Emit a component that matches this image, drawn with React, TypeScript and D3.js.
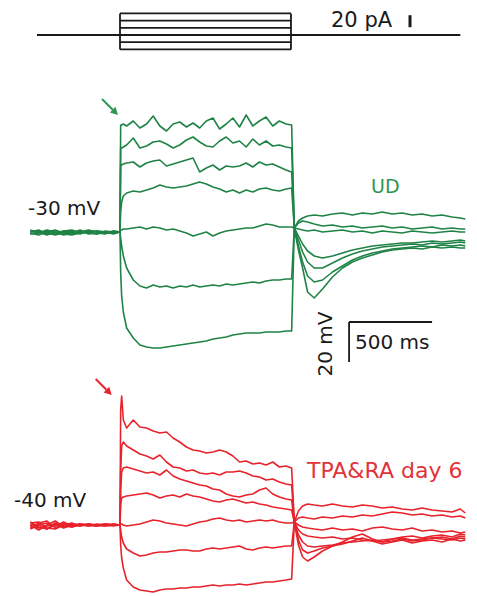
import React from 'react';
import * as d3 from 'd3';

const W = 477;
const H = 596;

// Sampling times (ms) relative to the onset of the current step
const BASE_T = [-540, -490, -440, -390, -340, -290, -240, -190, -140, -90, -40, 0];
const STEP_T = [4, 10, 20, 40, 80, 120, 160, 200, 240, 280, 320, 360, 400, 440, 480, 520, 560, 600, 640, 680, 720, 760, 800, 840, 880, 920, 960, 1000, 1034];
const POST_T = [1050, 1075, 1100, 1130, 1170, 1220, 1280, 1340, 1400, 1460, 1520, 1580, 1640, 1700, 1760, 1820, 1880, 1940, 2000, 2050, 2080];

// Injected current protocol (pA)
const STEP_ON = 0;
const STEP_OFF = 1030;
const STIM_START = -500;
const STIM_END = 2050;
const STIM_PA = [36, 24, 12, 0, -12, -24];

// UD cell, membrane potential (mV), one row per sweep
const UD_BASE = [
  [-30, -29, -31, -30.5, -29.5, -30, -31, -29.5, -30, -30.5, -29.5, -30],
  [-31, -30.5, -29, -30, -31.5, -30.5, -29.5, -30.5, -31, -30, -30.5, -30],
  [-29, -30.5, -30, -29, -30.5, -31, -30, -30.5, -29.5, -30, -31, -30],
  [-30.5, -31.5, -30, -31, -29.5, -29, -30.5, -30, -31, -29.5, -30, -30],
  [-29.5, -30, -31.5, -30, -30, -30.5, -29, -31, -30.5, -31, -29.5, -30],
  [-30, -29.5, -30.5, -31.5, -30.5, -29.5, -30, -29, -30, -30.5, -30, -30],
  [-31, -30, -29.5, -30, -31, -31.5, -30.5, -30, -29.5, -30, -30.5, -30],
];
const UD_STEP = [
  [23.5, 23.5, 24, 23, 25.5, 22, 24, 28, 23, 20.5, 24, 25, 22.5, 24.5, 22, 25.5, 27, 21.5, 24, 27, 22.5, 28.5, 23, 25.5, 27.5, 23, 25.5, 24, 23.5],
  [12, 12, 12.5, 13.5, 17, 12, 13, 15, 15.5, 14, 12, 13.5, 16, 17.5, 15, 13, 12.5, 15.5, 17.5, 14.5, 15.5, 12.5, 16.5, 13.5, 15.5, 13, 13.5, 12.5, 12],
  [3, 3.5, 4, 4.5, 5, 2.5, 4.5, 5.5, 6, 3, 4, 5, 6, 7, 0, 2, 3.5, 1, 3, 2.5, 3, 4.5, 2.5, 5, 3.5, 4, 2.5, 1, 0],
  [-20, -15, -12, -10.5, -9.5, -10, -9, -8, -6.5, -7.5, -8, -7.5, -7, -6, -5, -6, -7.5, -8.5, -10, -9, -10.5, -9, -10, -8.5, -8, -9, -9.5, -8.5, -8],
  [-29, -29, -28.5, -28.5, -28, -27.5, -28.5, -27.5, -28, -29, -28.5, -29.5, -30.5, -32, -31, -30, -32, -30.5, -29.5, -29, -28.5, -28, -28, -27, -26, -26.5, -27.5, -27.5, -27.5],
  [-33, -37, -42, -48, -54, -57, -58, -56.5, -57.5, -57, -58, -57, -57.5, -56.5, -57.5, -57, -56.5, -57, -56, -56.5, -56, -55.5, -55, -55.5, -54.5, -54, -54, -53.5, -53.5],
  [-50, -62, -70, -78, -83, -86.5, -87.5, -88, -88, -87.5, -87, -86.5, -86, -85.5, -85, -84.5, -83.5, -83, -82.5, -81.5, -81, -80.5, -80.5, -80.5, -80, -80, -80, -79.5, -79.5],
];
const UD_POST = [
  [-28, -39, -48, -60, -63, -58.5, -52.5, -48, -45, -43, -41.5, -40, -39, -38.5, -38, -38.5, -37.5, -38, -37.5, -38, -38],
  [-28, -37, -45, -52, -55, -54, -50, -47, -44, -42, -40.5, -39.5, -38.5, -38, -37.5, -37, -37.5, -36.5, -37, -36.5, -37],
  [-28, -34, -40, -45, -48, -48, -45.5, -43, -41, -39.5, -38.5, -37.5, -37, -36.5, -36, -36.5, -35.5, -36, -35.5, -35, -35.5],
  [-28, -32, -36, -39.5, -42, -43, -42, -40.5, -39, -38, -37, -36.5, -36, -35.5, -35.5, -35, -34.5, -35, -34.5, -34, -34.5],
  [-28, -28.5, -29, -29.5, -29, -30, -29.5, -29, -30, -29.5, -30.5, -29.5, -30, -30.5, -29.5, -30, -30.5, -30, -29.5, -30, -30],
  [-28, -25.5, -24.5, -25, -26, -27, -26.5, -27.5, -27, -28, -27.5, -27, -28, -27.5, -28.5, -28, -27.5, -28.5, -28, -28.5, -28.5],
  [-28, -24.5, -23, -22, -21.5, -22, -21, -20.5, -21.5, -20.5, -21, -20, -21, -20.5, -21.5, -21, -22, -21.5, -22.5, -23, -23.5],
];

// TPA&RA day 6 cell, membrane potential (mV), one row per sweep
const TR_BASE = [
  [-38.5, -41, -42, -39, -40.5, -41, -39.5, -40, -40.5, -39.5, -40, -40],
  [-41.5, -39, -38, -41.5, -39.5, -40, -40.5, -39.5, -40, -40.5, -39.5, -40],
  [-40, -42.5, -40, -38, -41, -39.5, -40, -40.5, -39.5, -40, -40.5, -40],
  [-42, -40, -39, -40.5, -38.5, -40.5, -39.5, -40, -40.5, -39.5, -40, -40],
  [-39, -38.5, -41.5, -42, -40, -39, -40.5, -39.5, -40, -40.5, -40, -40],
  [-40.5, -41.5, -40.5, -39.5, -41.5, -40, -39.5, -40.5, -40, -39.5, -40, -40],
  [-39.5, -40, -42, -40, -39.5, -41, -40, -39.5, -40.5, -40, -39.5, -40],
];
const TR_STEP = [
  [17.5, 24.5, 12.5, 8.5, 12.5, 9, 8.5, 7, 6, 6.5, 3.5, 1.5, -1, -2.5, -3, -4, -3.5, -2.5, -3.5, -5.5, -8.5, -8, -9.5, -9, -10, -8.5, -11, -10.5, -11.5],
  [-12.5, -0.5, 1.5, -0.5, -2.5, -4.5, -5.5, -7, -5, -8.5, -11, -11.5, -13, -12.5, -14, -14.5, -14, -15, -13.5, -13.5, -13, -14, -15.5, -16, -17.5, -17, -18.5, -19.5, -20],
  [-22.5, -13.5, -11.5, -11, -12, -13, -14, -13.5, -15, -12.5, -15.5, -17, -18, -19, -20, -20.5, -22, -22.5, -24.5, -25.5, -26, -25, -24.5, -22.5, -21.5, -24.5, -26, -27, -27.5],
  [-30, -26.5, -26, -25.5, -25, -24.5, -24, -25, -26.5, -25.5, -25, -26, -24.5, -25.5, -26, -27, -28, -28.5, -27.5, -27, -28, -29, -28.5, -29.5, -30, -31, -31.5, -32, -32.5],
  [-39.5, -39.5, -40, -40.5, -40, -39.5, -38.5, -37.5, -38, -39, -39.5, -40, -40.5, -39.5, -38.5, -38, -37, -36.5, -37.5, -38, -37.5, -38.5, -38, -37.5, -38, -37.5, -38.5, -39, -39],
  [-42.5, -46, -49, -52, -54, -55.5, -55, -54, -53.5, -53.5, -53, -52.5, -52.5, -53, -53, -52, -51.5, -52, -51.5, -51, -50.5, -52, -52.5, -51.5, -51, -51.5, -51, -50.5, -50.5],
  [-50, -56.5, -61.5, -67.5, -71, -72.5, -73, -73.5, -72.5, -72, -72, -71.5, -71.5, -71, -71, -70.5, -70, -70.5, -70, -70, -69.5, -70, -69.5, -69, -68.5, -68.5, -68, -67.5, -67],
];
const TR_POST = [
  [-38.5, -50, -56, -58, -56, -53, -50.5, -48.5, -46, -44.5, -47, -48.5, -47, -46, -45.5, -46.5, -45.5, -45, -46, -44.5, -45],
  [-38.5, -47.5, -52.5, -54, -53, -51.5, -50.5, -49.5, -48, -46.5, -48, -49.5, -48.5, -47.5, -49, -48, -47.5, -48.5, -47, -48, -47.5],
  [-38.5, -45, -48.5, -50.5, -51, -50.5, -50, -49, -48.5, -48, -47.5, -48.5, -48, -47, -48, -47.5, -46.5, -47, -47.5, -46.5, -47],
  [-38.5, -42.5, -44.5, -45.5, -46, -46.5, -46, -47, -46.5, -47.5, -48, -47.5, -47, -46.5, -47.5, -47, -46.5, -46, -47, -45.5, -46],
  [-38.5, -40, -41, -41.5, -42, -42.5, -41.5, -42.5, -42, -43, -41.5, -41, -42, -42.5, -41.5, -43, -42.5, -43.5, -43, -44, -43.5],
  [-38.5, -36.5, -36, -36.5, -37, -36, -36.5, -35.5, -36, -35, -35.5, -34.5, -33.5, -34, -35, -34.5, -35.5, -35, -36, -35.5, -36.5],
  [-38.5, -33, -30.5, -29.5, -30, -30.5, -29.5, -30.5, -31, -30, -30.5, -31.5, -31, -32, -32.5, -31.5, -32.5, -33, -33.5, -32, -34],
];

// Scale bars
const TIME_BAR_MS = 500;
const VOLT_BAR_MV = 20;
const CURRENT_BAR_PA = 20;

const GREEN = '#1f8346';
const GREEN_TEXT = '#2c9654';
const RED = '#e8222b';
const RED_TEXT = '#e2333a';
const INK = '#1a1a1a';
const FONT = '"DejaVu Sans", Verdana, sans-serif';

const x = d3.scaleLinear().domain([0, 1000]).range([120, 286]);
const yStim = d3.scaleLinear().domain([0, 20]).range([35, 23]);
const yUD = d3.scaleLinear().domain([-30, 20]).range([232, 132]);
const yTR = d3.scaleLinear().domain([-40, 10]).range([525, 425]);

type Pt = [number, number];

function sweep(base: number[], step: number[], post: number[]): Pt[] {
  return [
    ...BASE_T.map((t, i) => [t, base[i]] as Pt),
    ...STEP_T.map((t, i) => [t, step[i]] as Pt),
    ...POST_T.map((t, i) => [t, post[i]] as Pt),
  ];
}

function Arrow({ x1, y1, x2, y2, color }: { x1: number; y1: number; x2: number; y2: number; color: string }) {
  const a = Math.atan2(y2 - y1, x2 - x1);
  const L = 7.5;
  const w = 4;
  const bx = x2 - L * Math.cos(a);
  const by = y2 - L * Math.sin(a);
  const p1 = [bx + w * Math.sin(a), by - w * Math.cos(a)];
  const p2 = [bx - w * Math.sin(a), by + w * Math.cos(a)];
  return (
    <g>
      <line x1={x1} y1={y1} x2={bx} y2={by} stroke={color} strokeWidth={2} />
      <path d={`M${x2},${y2}L${p1[0]},${p1[1]}L${p2[0]},${p2[1]}Z`} fill={color} />
    </g>
  );
}

function Panel({ base, step, post, y, color }: { base: number[][]; step: number[][]; post: number[][]; y: d3.ScaleLinear<number, number>; color: string }) {
  const line = d3
    .line<Pt>()
    .x((d) => x(d[0]))
    .y((d) => y(d[1]));
  return (
    <g fill="none" stroke={color} strokeWidth={1.6} strokeLinejoin="round">
      {base.map((b, i) => (
        <path key={i} d={line(sweep(b, step[i], post[i])) || ''} />
      ))}
    </g>
  );
}

export default function App() {
  const stimTop = d3.max(STIM_PA) as number;
  const stimBottom = d3.min(STIM_PA) as number;

  // scale bar anchor for the voltage traces
  const sbT = 1380;
  const sbV = -75;
  const sbX0 = x(sbT);
  const sbX1 = x(sbT + TIME_BAR_MS);
  const sbY0 = yUD(sbV);
  const sbY1 = yUD(sbV - VOLT_BAR_MV);

  const trPeak = d3.max(TR_STEP[0]) as number;
  const gTip = { x: x(-12), y: yUD(UD_STEP[0][0] + 5) };
  const rTip = { x: x(-50), y: yTR(trPeak + 0.5) };

  return (
    <svg width={W} height={H} style={{ position: 'absolute', left: 0, top: 0, background: '#fff' }}>
      <rect width={W} height={H} fill="#fff" />

      {/* current protocol */}
      <g stroke={INK} strokeWidth={1.8} fill="none">
        <line x1={x(STIM_START)} x2={x(STIM_END)} y1={yStim(0)} y2={yStim(0)} />
        {STIM_PA.map((p) => (
          <line key={p} x1={x(STEP_ON)} x2={x(STEP_OFF)} y1={yStim(p)} y2={yStim(p)} />
        ))}
        <line x1={x(STEP_ON)} x2={x(STEP_ON)} y1={yStim(stimTop)} y2={yStim(stimBottom)} />
        <line x1={x(STEP_OFF)} x2={x(STEP_OFF)} y1={yStim(stimTop)} y2={yStim(stimBottom)} />
      </g>
      <text x={331} y={27} fontFamily={FONT} fontSize={21} fill={INK}>20 pA</text>
      <line x1={410} x2={410} y1={yStim(13)} y2={yStim(13 + CURRENT_BAR_PA)} stroke={INK} strokeWidth={3} />

      {/* UD sweeps */}
      <Panel base={UD_BASE} step={UD_STEP} post={UD_POST} y={yUD} color={GREEN} />
      <Arrow x1={gTip.x - 16} y1={gTip.y - 16} x2={gTip.x} y2={gTip.y} color={GREEN_TEXT} />
      <text x={28} y={215} fontFamily={FONT} fontSize={20} fill={INK}>-30 mV</text>
      <text x={371} y={193} fontFamily={FONT} fontSize={19} fill={GREEN_TEXT}>UD</text>

      {/* scale bars */}
      <g stroke={INK} strokeWidth={1.8}>
        <line x1={sbX0} x2={sbX1} y1={sbY0} y2={sbY0} />
        <line x1={sbX0} x2={sbX0} y1={sbY0} y2={sbY1} />
      </g>
      <text x={sbX0 + 6} y={sbY0 + 27} fontFamily={FONT} fontSize={20} fill={INK}>500 ms</text>
      <text
        transform={`translate(${sbX0 - 17},${(sbY0 + sbY1) / 2 + 2}) rotate(-90)`}
        textAnchor="middle"
        fontFamily={FONT}
        fontSize={20}
        fill={INK}
      >
        20 mV
      </text>

      {/* TPA&RA day 6 sweeps */}
      <Panel base={TR_BASE} step={TR_STEP} post={TR_POST} y={yTR} color={RED} />
      <Arrow x1={rTip.x - 16} y1={rTip.y - 16} x2={rTip.x} y2={rTip.y} color={RED} />
      <text x={14} y={507} fontFamily={FONT} fontSize={20} fill={INK}>-40 mV</text>
      <text x={307} y={478} fontFamily={FONT} fontSize={22} fill={RED_TEXT}>TPA&amp;RA day 6</text>
    </svg>
  );
}
